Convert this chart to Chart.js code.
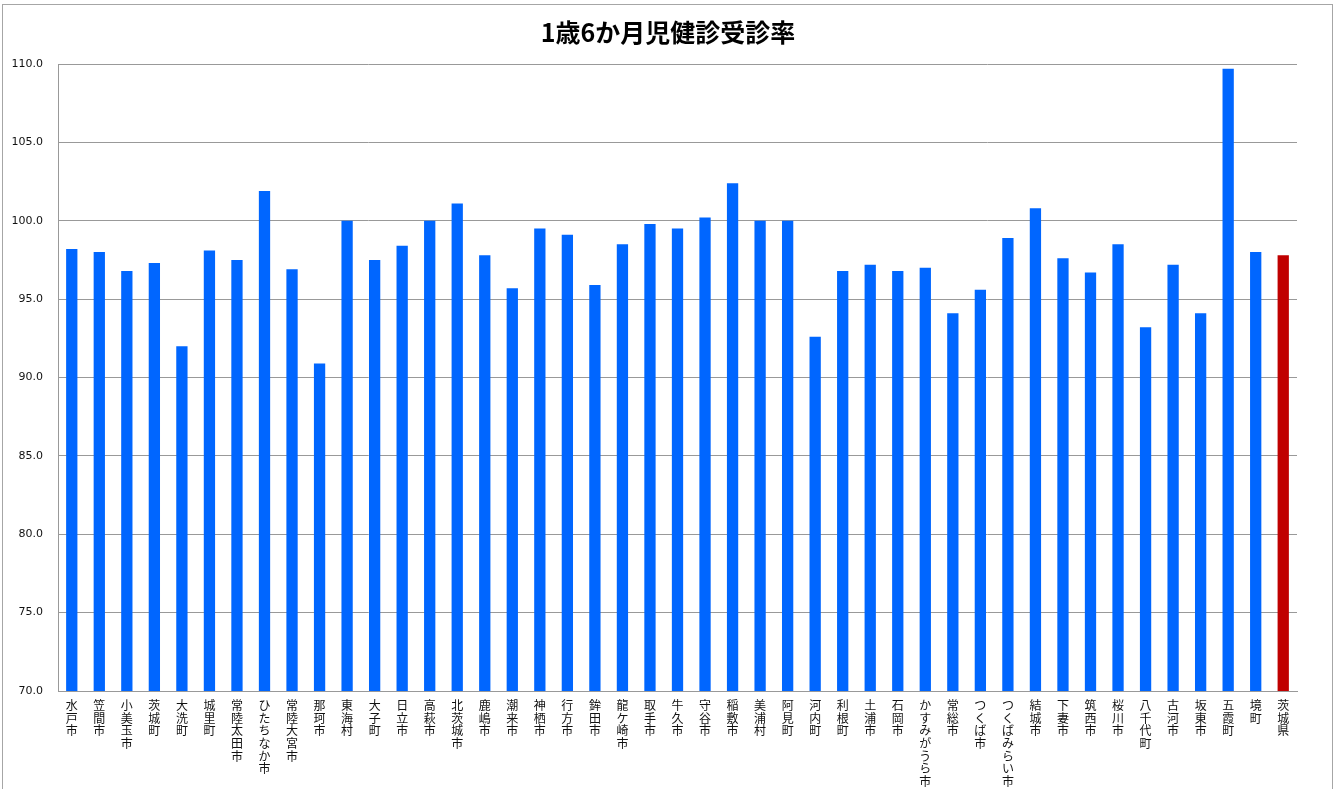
<!DOCTYPE html>
<html lang="ja">
<head>
<meta charset="utf-8">
<title>1歳6か月児健診受診率</title>
<script src="https://cdn.jsdelivr.net/npm/chart.js@4.4.1/dist/chart.umd.min.js"></script>
<style>
  html, body { margin: 0; padding: 0; background: #fff; }
  #frame {
    position: absolute; left: 2px; top: 4px; width: 1329px; height: 800px;
    border-left: 1px solid #a6a6a6; border-top: 1px solid #a6a6a6; border-right: 1px solid #a6a6a6;
  }
  #wrap { position: absolute; left: 0; top: 0; width: 1333px; height: 789px; }
</style>
</head>
<body>
<div id="frame"></div>
<div id="wrap"><canvas id="myChart" width="1333" height="789"></canvas></div>
<script>
// municipalities (x axis)
const categories = [
  '水戸市', '笠間市', '小美玉市', '茨城町', '大洗町', '城里町', '常陸太田市', 'ひたちなか市',
  '常陸大宮市', '那珂市', '東海村', '大子町', '日立市', '高萩市', '北茨城市', '鹿嶋市',
  '潮来市', '神栖市', '行方市', '鉾田市', '龍ケ崎市', '取手市', '牛久市', '守谷市',
  '稲敷市', '美浦村', '阿見町', '河内町', '利根町', '土浦市', '石岡市', 'かすみがうら市',
  '常総市', 'つくば市', 'つくばみらい市', '結城市', '下妻市', '筑西市', '桜川市', '八千代町',
  '古河市', '坂東市', '五霞町', '境町', '茨城県'
];

// 受診率 (%)
const rates = [
  98.2, 98.0, 96.8, 97.3, 92.0, 98.1, 97.5, 101.9,
  96.9, 90.9, 100.0, 97.5, 98.4, 100.0, 101.1, 97.8,
  95.7, 99.5, 99.1, 95.9, 98.5, 99.8, 99.5, 100.2,
  102.4, 100.0, 100.0, 92.6, 96.8, 97.2, 96.8, 97.0,
  94.1, 95.6, 98.9, 100.8, 97.6, 96.7, 98.5, 93.2,
  97.2, 94.1, 109.7, 98.0, 97.8
];

const yTicks = [70, 75, 80, 85, 90, 95, 100, 105, 110];

const prefecture = '茨城県';
const blue = '#0066ff';
const red = '#c00000';

// stack each character vertically
const stackedLabels = categories.map(function (name) { return Array.from(name); });

const ctx = document.getElementById('myChart').getContext('2d');
const chart = new Chart(ctx, {
  type: 'bar',
  data: {
    labels: stackedLabels,
    datasets: [{
      label: '受診率',
      data: rates,
      backgroundColor: categories.map(function (c) { return c === prefecture ? red : blue; }),
      borderWidth: 0,
      barPercentage: 0.41,
      categoryPercentage: 1.0
    }]
  },
  options: {
    responsive: false,
    animation: false,
    layout: { padding: { left: 3, right: 0, top: 0, bottom: 0 } },
    plugins: {
      legend: { display: false },
      tooltip: { enabled: false },
      title: {
        display: true,
        text: '1歳6か月児健診受診率',
        color: '#000',
        font: { family: '"Noto Sans CJK JP", sans-serif', size: 25, weight: 'bold', lineHeight: 1.2 },
        padding: { top: 17, bottom: 17 }
      }
    },
    scales: {
      x: {
        grid: { display: false, drawTicks: false },
        border: { display: true, color: '#999999', width: 1 },
        ticks: {
          autoSkip: false,
          maxRotation: 0,
          minRotation: 0,
          padding: 8,
          color: '#111',
          font: { family: '"Noto Sans CJK JP", sans-serif', size: 12, lineHeight: '12.7px' }
        },
        afterFit: function (scale) { scale.height = 98; }
      },
      y: {
        min: 70,
        max: 110,
        afterBuildTicks: function (scale) {
          scale.ticks = yTicks.map(function (v) { return { value: v }; });
        },
        grid: { color: '#999999', lineWidth: 1, drawTicks: false },
        border: { display: true, color: '#999999', width: 1 },
        ticks: {
          padding: 15,
          color: '#111',
          font: { family: '"DejaVu Sans", sans-serif', size: 11 },
          callback: function (v) { return Number(v).toFixed(1); }
        },
        afterFit: function (scale) { scale.width = 55; }
      },
      // empty right-hand axis: reserves the right margin so the title stays page-centred
      yRight: {
        type: 'linear',
        position: 'right',
        display: true,
        min: 70,
        max: 110,
        grid: { display: false, drawTicks: false },
        border: { display: false },
        ticks: { display: false },
        afterFit: function (scale) { scale.width = 36; }
      }
    }
  }
});
</script>
</body>
</html>
